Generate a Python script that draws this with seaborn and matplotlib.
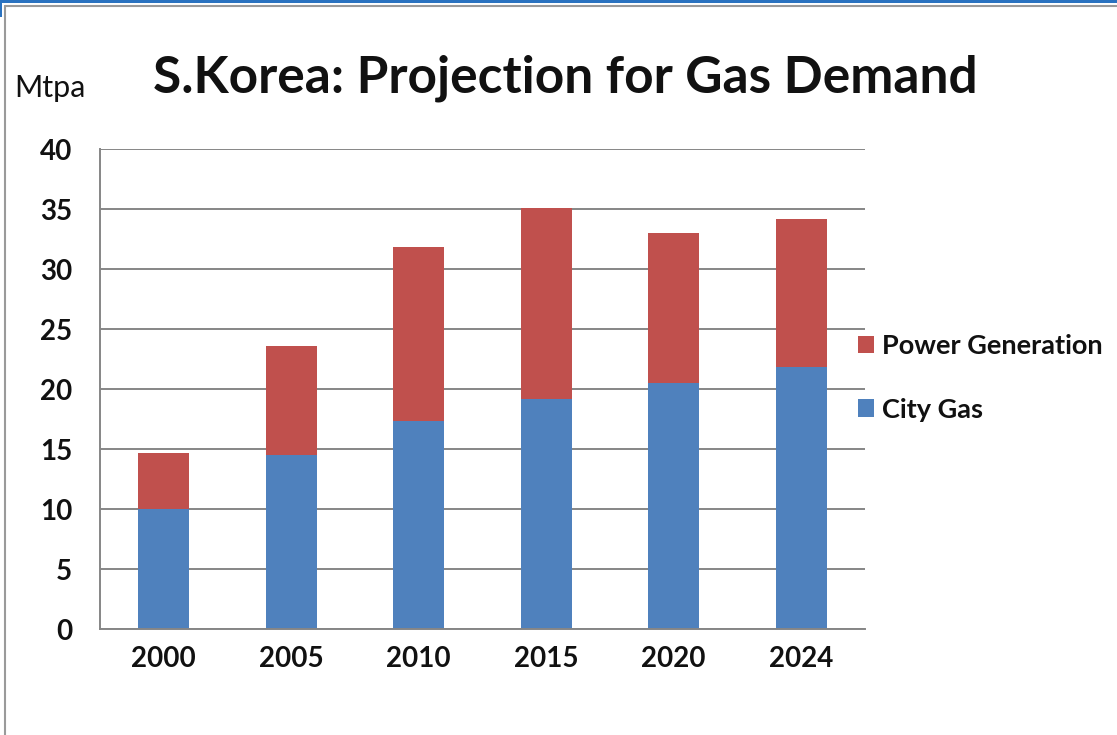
import matplotlib
matplotlib.use("Agg")
import matplotlib.pyplot as plt
from matplotlib.patches import Patch, Rectangle
from matplotlib.lines import Line2D
from matplotlib.ticker import FixedLocator
import seaborn as sns
import pandas as pd

# Korean gas demand, million tonnes per annum
years = ["2000", "2005", "2010", "2015", "2020", "2024"]
city_gas = [10.0, 14.5, 17.3, 19.2, 20.5, 21.8]
power_generation = [4.7, 9.1, 14.5, 15.9, 12.5, 12.4]

BLUE = "#4F81BD"
RED = "#C0504D"
GRID = "#868686"

sns.set_style("white")
plt.rcParams["font.family"] = ["Lato", "DejaVu Sans"]

df = pd.DataFrame({
    "year": years,
    "city": city_gas,
    "power": power_generation,
})
df["total"] = df["city"] + df["power"]

W, H = 1117, 735
fig = plt.figure(figsize=(W / 100, H / 100), dpi=100)
ax = fig.add_axes([100 / W, 1 - 629 / H, 765 / W, 480 / H])

# stacked columns: full height in red, city gas drawn over it in blue
sns.barplot(data=df, x="year", y="total", color=RED, width=0.4,
            saturation=1, ax=ax, edgecolor="none")
sns.barplot(data=df, x="year", y="city", color=BLUE, width=0.4,
            saturation=1, ax=ax, edgecolor="none")

ax.set_xlim(-0.5, len(years) - 0.5)
ax.set_ylim(0, 40)
ax.set_yticks(range(0, 41, 5))
ax.set_xlabel("")
ax.set_ylabel("")

ax.set_axisbelow(True)
ax.yaxis.grid(True, color=GRID, linewidth=1.4)
ax.xaxis.grid(False)

for side in ("top", "right"):
    ax.spines[side].set_visible(False)
for side in ("left", "bottom"):
    ax.spines[side].set_color(GRID)
    ax.spines[side].set_linewidth(1.4)

ax.tick_params(axis="y", direction="out", length=8, width=1.2, color=GRID,
               pad=12, labelsize=20)
ax.tick_params(axis="x", which="major", length=0, pad=12, labelsize=20)
ax.xaxis.set_minor_locator(FixedLocator([i - 0.5 for i in range(len(years) + 1)]))
ax.tick_params(axis="x", which="minor", direction="out", length=6, width=1.2,
               color=GRID)
for lab in ax.get_xticklabels() + ax.get_yticklabels():
    lab.set_fontweight("bold")
    lab.set_color("#111111")

fig.text(565 / W, 1 - 92 / H, "S.Korea: Projection for Gas Demand",
         ha="center", va="baseline", fontsize=37, fontweight="bold",
         color="#111111")
fig.text(14 / W, 1 - 97 / H, "Mtpa", ha="left", va="baseline",
         fontsize=22, color="#111111")

handles = [Patch(facecolor=RED, edgecolor="none", label="Power Generation"),
           Patch(facecolor=BLUE, edgecolor="none", label="City Gas")]
leg = fig.legend(handles=handles, loc="center left",
                 bbox_to_anchor=(858 / W, 1 - 378 / H), frameon=False,
                 prop={"size": 19.5, "weight": "bold"},
                 handlelength=0.6, handleheight=0.6,
                 handletextpad=0.3, labelspacing=1.45, borderpad=0,
                 borderaxespad=0)
for t in leg.get_texts():
    t.set_color("#111111")

# window frame along the top and left edges
fig.add_artist(Rectangle((0, 1 - 3 / H), 1, 3 / H, transform=fig.transFigure,
                         facecolor="#2A72C0", edgecolor="none"))
fig.add_artist(Rectangle((0, 1 - 17 / H), 2 / W, 17 / H,
                         transform=fig.transFigure,
                         facecolor="#2A72C0", edgecolor="none"))
fig.add_artist(Line2D([5 / W, 1], [1 - 6 / H, 1 - 6 / H],
                      transform=fig.transFigure, color="#9A9A9A",
                      linewidth=1.5))
fig.add_artist(Line2D([5 / W, 5 / W], [0, 1 - 6 / H],
                      transform=fig.transFigure, color="#9A9A9A",
                      linewidth=1.5))

fig.savefig("out.png", dpi=100)
